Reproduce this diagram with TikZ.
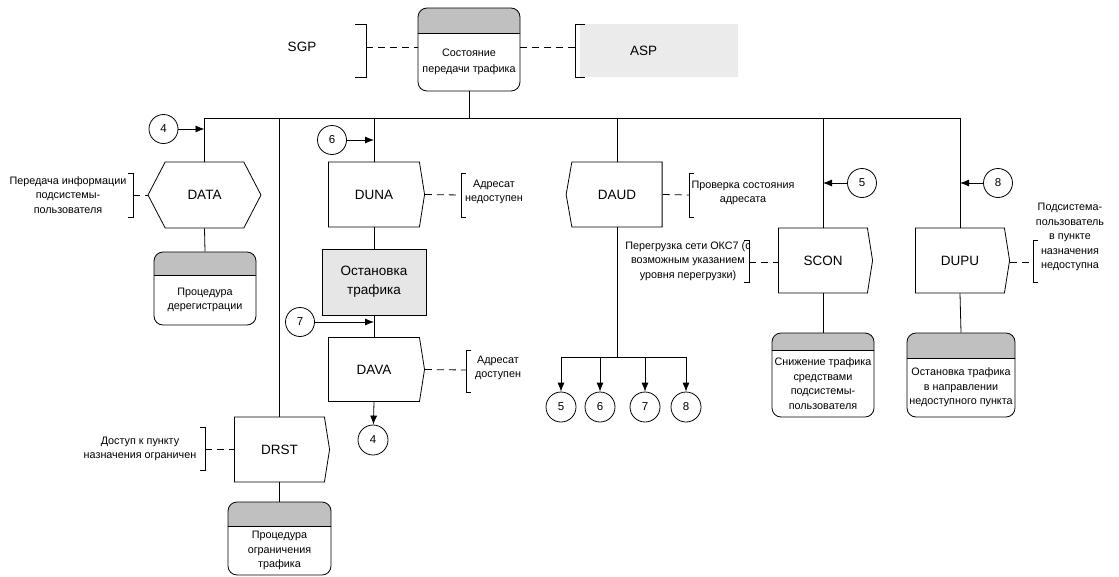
\documentclass[tikz,border=0pt]{standalone}
\usepackage{fontspec}
\setmainfont{Liberation Sans}
\usetikzlibrary{shapes.symbols, shapes.geometric, arrows.meta}

\definecolor{hdrgray}{HTML}{C0C0C0}
\definecolor{stopgray}{HTML}{E6E6E6}
\definecolor{aspgray}{HTML}{EBEBEB}

\newcommand{\notefont}{\fontsize{10.8}{14.5}\selectfont}
\newcommand{\blockfont}{\fontsize{13.5}{19}\selectfont}
\newcommand{\numfont}{\fontsize{11.5}{13}\selectfont}

\tikzstyle{funcright} = [signal, signal to=east, signal from=nowhere, signal pointer angle=162, draw, line width=0.8pt, minimum width=96, minimum height=65, inner sep=0, font=\blockfont]
\tikzstyle{funcleft} = [signal, signal to=west, signal from=nowhere, signal pointer angle=160, draw, line width=0.8pt, minimum width=96, minimum height=65, inner sep=0, font=\blockfont]
\tikzstyle{funcboth} = [signal, signal to=east and west, signal pointer angle=125, draw, line width=0.8pt, minimum width=113, minimum height=66, inner sep=0, font=\blockfont]
\tikzstyle{stopbox} = [rectangle, draw, line width=0.8pt, fill=stopgray, minimum width=104, minimum height=66, align=center, font=\blockfont]
\tikzstyle{aspbox} = [rectangle, fill=aspgray, minimum height=53, inner xsep=50, text width=58, align=left, font=\blockfont]
\tikzstyle{note} = [align=center, inner sep=0, font=\notefont]
\tikzstyle{conn} = [circle, draw, line width=0.8pt, minimum size=29, inner sep=0, font=\numfont]
\tikzstyle{arrow} = [line width=0.8pt, -{Latex[length=9pt,width=7pt]}]
\tikzstyle{dashline} = [line width=0.8pt, dash pattern=on 7pt off 5pt]
\tikzstyle{bracket} = [line width=0.8pt]
\tikzset{procbox/.style={rectangle, rounded corners=9pt, draw, line width=0.8pt, minimum width=102,
  path picture={\fill[hdrgray, sharp corners] ([shift={(-2pt,2pt)}]path picture bounding box.north west) rectangle ([shift={(2pt,-#1)}]path picture bounding box.north east);
    \draw[line width=1pt, sharp corners] ([shift={(-2pt,-#1)}]path picture bounding box.north west) -- ([shift={(2pt,-#1)}]path picture bounding box.north east);}}}

\begin{document}
\begin{tikzpicture}[x=1pt,y=-1pt]
\useasboundingbox (0,0) rectangle (1119,576);
%%%%% ADDING MAIN BLOCKS
\node (st) [procbox=25pt, minimum height=83, label={[note, yshift=-12.5, font=\fontsize{10.8}{16}\selectfont]center:Состояние\\передачи трафика}] at (469,49.5) {};
\node (sgp) [font=\blockfont] at (302,47) {SGP};
\node (asp) [aspbox] at (659,50.5) {ASP};

% left branch
\node (data) [funcboth] at (204.5,195) {DATA};
\node (dproc) [procbox=23pt, minimum height=73, label={[note, yshift=-11.5]center:Процедура\\дерегистрации}] at (205,288.5) {};
\node (drst) [funcright, minimum width=95] at (279.5,449.5) {DRST};
\node (rproc) [procbox=24pt, minimum width=103, minimum height=73, label={[note, yshift=-12]center:Процедура\\ограничения\\трафика}] at (279.5,538.5) {};

% middle branch
\node (duna) [funcright] at (374,194.5) {DUNA};
\node (stop) [stopbox] at (374,282) {Остановка\\трафика};
\node (dava) [funcright, minimum height=64] at (374,369.5) {DAVA};
\node (daud) [funcleft] at (617,194.5) {DAUD};

% right branch
\node (scon) [funcright, minimum width=94] at (823,260.5) {SCON};
\node (sproc) [procbox=17pt, minimum height=84, label={[note, yshift=-8.5]center:Снижение трафика\\средствами\\подсистемы-\\пользователя}] at (823,375) {};
\node (dupu) [funcright, minimum width=94] at (960,260.5) {DUPU};
\node (uproc) [procbox=25pt, minimum width=108, minimum height=84, label={[note, yshift=-12.5]center:Остановка трафика\\в направлении\\недоступного пункта}] at (961,375) {};

% connectors
\node (c4a) [conn] at (163.5,129) {4};
\node (c6a) [conn] at (332,140) {6};
\node (c7a) [conn] at (300,322) {7};
\node (c4b) [conn, minimum size=30] at (373,440) {4};
\node (c5a) [conn] at (862,183) {5};
\node (c8a) [conn] at (998,183) {8};
\node (c5b) [conn, minimum size=30] at (561,407) {5};
\node (c6b) [conn, minimum size=30] at (600,407) {6};
\node (c7b) [conn, minimum size=30] at (645,407) {7};
\node (c8b) [conn, minimum size=30] at (686,407) {8};

% comments
\node (datanote) [note] at (68,195) {Передача информации\\подсистемы-\\пользователя};
\node (drstnote) [note] at (140,449) {Доступ к пункту\\назначения ограничен};
\node (dunanote) [note] at (494,192) {Адресат\\недоступен};
\node (davanote) [note] at (498,368) {Адресат\\доступен};
\node (daudnote) [note] at (743,193) {Проверка состояния\\адресата};
\node (sconnote) [note] at (688,261) {Перегрузка сети ОКС7 (с\\возможным указанием\\уровня перегрузки)};
\node (dupunote) [note] at (1070,237) {Подсистема-\\пользователь\\в пункте\\назначения\\недоступна};

\coordinate (bus) at (469,118);
\coordinate (fork) at (617,357);
\coordinate (sgpb) at (366,47);
\coordinate (aspb) at (575,47);
\coordinate (datab) at (133,195);
\coordinate (drstb) at (205,449.5);
\coordinate (dunab) at (461,195);
\coordinate (davab) at (466,370);
\coordinate (daudb) at (689,195);
\coordinate (sconb) at (749,262);
\coordinate (dupub) at (1033,262);

%%%%% ADDING BRACKETS
\draw [bracket] ([shift={(-11,-23)}]sgpb) -- ++(11,0) -- ++(0,53) -- ++(-11,0);
\draw [bracket] ([shift={(10,-23)}]aspb) -- ++(-10,0) -- ++(0,53) -- ++(10,0);
\draw [bracket] ([shift={(-5,-22)}]datab) -- ++(5,0) -- ++(0,44) -- ++(-5,0);
\draw [bracket] ([shift={(-5,-22)}]drstb) -- ++(5,0) -- ++(0,43) -- ++(-5,0);
\draw [bracket] ([shift={(5,-22)}]dunab) -- ++(-5,0) -- ++(0,44) -- ++(5,0);
\draw [bracket] ([shift={(5,-20)}]davab) -- ++(-5,0) -- ++(0,42) -- ++(5,0);
\draw [bracket] ([shift={(5,-22)}]daudb) -- ++(-5,0) -- ++(0,44) -- ++(5,0);
\draw [bracket] ([shift={(-5,-22)}]sconb) -- ++(5,0) -- ++(0,42) -- ++(-5,0);
\draw [bracket] ([shift={(5,-22)}]dupub) -- ++(-5,0) -- ++(0,42) -- ++(5,0);

\draw [dashline] (sgpb) -- (sgpb -| st.west);
\draw [dashline] (st.east |- aspb) -- (aspb);
\draw [dashline] (datab) -- (data.west);
\draw [dashline] (drstb) -- (drstb -| drst.west);
\draw [dashline] (duna.east) -- (dunab);
\draw [dashline] (dava.east) -- (davab);
\draw [dashline] (daud.east) -- (daudb);
\draw [dashline] (sconb) -- (sconb -| scon.west);
\draw [dashline] (dupub -| dupu.east) -- (dupub);

%%%%% ADDING ARROWS
\draw [line width=0.8pt] (st.south) -- (bus);
\draw [line width=0.8pt] (data.north) -- (data.north |- bus) -- (dupu.north |- bus) -- (dupu.north);
\draw [line width=0.8pt] (drst.north) -- (drst.north |- bus);
\draw [line width=0.8pt] (duna.north) -- (duna.north |- bus);
\draw [line width=0.8pt] (daud.north) -- (daud.north |- bus);
\draw [line width=0.8pt] (scon.north) -- (scon.north |- bus);

\draw [line width=0.8pt] (data.south) -- (dproc.north);
\draw [line width=0.8pt] (drst.south) -- (rproc.north);
\draw [line width=0.8pt] (duna.south) -- (stop.north);
\draw [line width=0.8pt] (stop.south) -- (dava.north);
\draw [arrow] (dava.south) -- (c4b);
\draw [line width=0.8pt] (scon.south) -- (sproc.north);
\draw [line width=0.8pt] (dupu.south) -- (uproc.north);
\draw [line width=0.8pt] (daud.south) -- (fork);
\draw [arrow] (fork) -| (c5b);
\draw [arrow] (fork) -| (c6b);
\draw [arrow] (fork) -| (c7b);
\draw [arrow] (fork) -| (c8b);

\draw [arrow] (c4a) -- (c4a -| data.north);
\draw [arrow] (c6a) -- (c6a -| duna.north);
\draw [arrow] (c7a) -- (c7a -| dava.north);
\draw [arrow] (c5a) -- (c5a -| scon.north);
\draw [arrow] (c8a) -- (c8a -| dupu.north);
\end{tikzpicture}
\end{document}
